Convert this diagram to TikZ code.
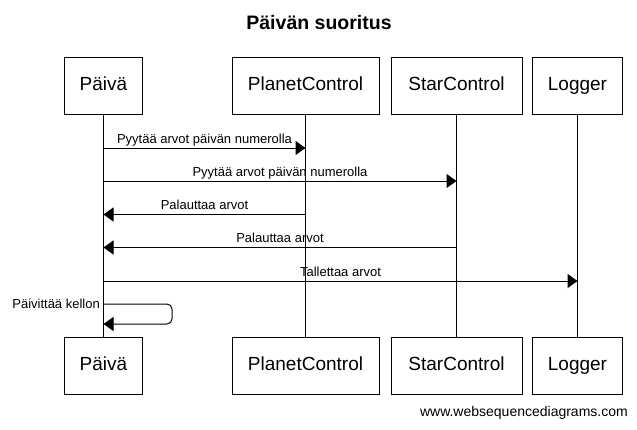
\documentclass[tikz,border=0pt]{standalone}
\usepackage{fontspec}
\setmainfont{Liberation Sans}
\usetikzlibrary{arrows.meta}
\begin{document}
\begin{tikzpicture}[x=1pt,y=-1pt,
  actor/.style={draw=black,line width=1pt,minimum height=57pt,inner sep=0pt,text height=13.5pt,text depth=4pt,font=\fontsize{19}{22}\selectfont,fill=white},
  life/.style={draw=black,line width=1pt},
  msg/.style={draw=black,line width=1pt,-{Triangle[length=10pt,width=14pt]}},
  lbl/.style={font=\fontsize{13}{15}\selectfont,inner sep=0pt,anchor=base,yshift=5pt},
]
\useasboundingbox (0,0) rectangle (637,429);
\node[font=\bfseries\fontsize{19.5}{22}\selectfont] (title) at (319,23) {Päivän suoritus};
% top actors
\node[actor,minimum width=78pt] (pt) at (103.5,85.5) {Päivä};
\node[actor,minimum width=147pt] (ct) at (305.5,85.5) {PlanetControl};
\node[actor,minimum width=131pt] (st) at (456.5,85.5) {StarControl};
\node[actor,minimum width=90pt] (lt) at (577.5,85.5) {Logger};
% bottom actors
\node[actor,minimum width=78pt] (pb) at (103.5,365.5) {Päivä};
\node[actor,minimum width=147pt] (cb) at (305.5,365.5) {PlanetControl};
\node[actor,minimum width=131pt] (sb) at (456.5,365.5) {StarControl};
\node[actor,minimum width=90pt] (lb) at (577.5,365.5) {Logger};
% lifelines
\draw[life] (pt.south) -- (pb.north);
\draw[life] (ct.south) -- (cb.north);
\draw[life] (st.south) -- (sb.north);
\draw[life] (lt.south) -- (lb.north);
% message coordinates
\coordinate (m1a) at (pt.south |- 0,148);
\coordinate (m1b) at (ct.south |- 0,148);
\coordinate (m2a) at (pt.south |- 0,181);
\coordinate (m2b) at (st.south |- 0,181);
\coordinate (m3a) at (ct.south |- 0,214.5);
\coordinate (m3b) at (pt.south |- 0,214.5);
\coordinate (m4a) at (st.south |- 0,247.5);
\coordinate (m4b) at (pt.south |- 0,247.5);
\coordinate (m5a) at (pt.south |- 0,281);
\coordinate (m5b) at (lt.south |- 0,281);
\coordinate (m6a) at (pt.south |- 0,304);
\coordinate (m6r) at (172,304);
\coordinate (m6s) at (172,324);
\coordinate (m6b) at (pt.south |- 0,324);
\draw[msg] (m1a) -- node[lbl] (l1) {Pyytää arvot päivän numerolla} (m1b);
\draw[msg] (m2a) -- node[lbl] (l2) {Pyytää arvot päivän numerolla} (m2b);
\draw[msg] (m3a) -- node[lbl] (l3) {Palauttaa arvot} (m3b);
\draw[msg] (m4a) -- node[lbl] (l4) {Palauttaa arvot} (m4b);
\draw[msg] (m5a) -- node[lbl] (l5) {Tallettaa arvot} (m5b);
\draw[msg,rounded corners=5pt] (m6a) -- (m6r) -- (m6s) -- (m6b);
\node[font=\fontsize{13}{15}\selectfont,inner sep=0pt,anchor=base east] (l6) at (100,308) {Päivittää kellon};
\node[font=\fontsize{14}{16}\selectfont,inner sep=0pt,anchor=east] (foot) at (628,413) {www.websequencediagrams.com};
\end{tikzpicture}
\end{document}
